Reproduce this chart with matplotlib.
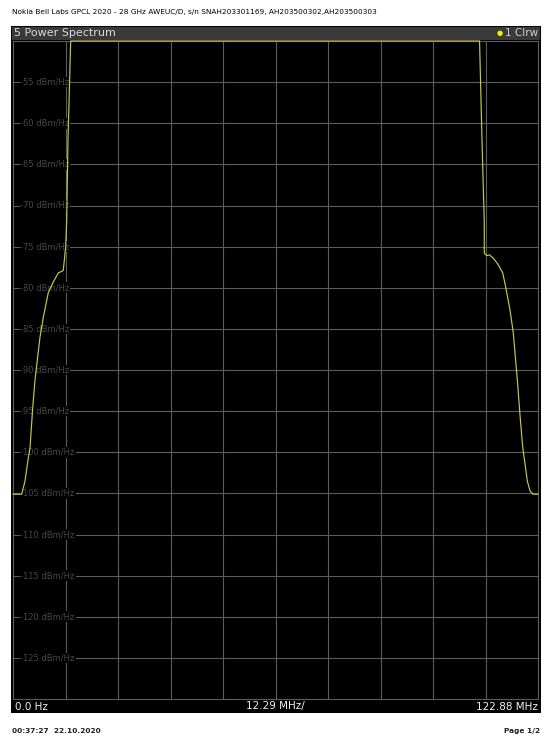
import numpy as np
import matplotlib.pyplot as plt
from matplotlib.patches import Rectangle
from matplotlib.transforms import blended_transform_factory

# trace read-out: frequency (MHz) and power density (dBm/Hz)
freq_mhz = [0.0, 2.04, 2.81, 3.58, 3.98, 4.56, 5.15, 6.32, 7.09, 8.26, 9.43,
            10.60, 11.40, 11.77, 12.33, 12.57, 12.87, 13.5, 13.8,
            109.0, 109.2, 109.77, 110.3, 110.31, 110.87, 111.48, 112.42,
            113.59, 114.62, 115.32, 116.33, 117.1, 118.04, 118.67, 119.3,
            119.84, 120.38, 121.01, 121.71, 122.88]
psd_dbm = [-105.1, -105.1, -103.5, -100.7, -99.5, -95.0, -91.2, -86.0, -83.6,
           -80.6, -79.3, -78.2, -78.0, -77.9, -75.0, -71.7, -62.0, -50.0, -45.0,
           -45.0, -50.0, -62.0, -72.0, -75.8, -76.1, -76.0, -76.4,
           -77.2, -78.2, -79.9, -82.7, -85.5, -91.2, -95.5, -99.4,
           -101.4, -103.5, -104.7, -105.1, -105.1]

ref_level = -50
y_bottom = -130
ytick_vals = list(range(-55, -126, -5))
span_mhz = 122.88
header = "Nokia Bell Labs GPCL 2020 - 28 GHz AWEUC/D, s/n SNAH203301169, AH203500302,AH203500303"
footer_time = "00:37:27  22.10.2020"

W, H = 548, 740
fig = plt.figure(figsize=(W / 100, H / 100), dpi=100)
fig.patch.set_facecolor('white')

def fx(px):
    return px / W

def fy(py):
    return 1 - py / H

# instrument window frame and title bar
fig.patches.append(Rectangle((fx(11), fy(713)), fx(530), 687 / H,
                             transform=fig.transFigure, facecolor='black',
                             edgecolor='none', zorder=-2))
fig.patches.append(Rectangle((fx(12), fy(40)), fx(528), 13 / H,
                             transform=fig.transFigure, facecolor='#3a3a3a',
                             edgecolor='none', zorder=-1))
fig.text(fx(14), fy(33.5), "5 Power Spectrum", color='#d8d8d8', fontsize=8,
         va='center', ha='left')
fig.text(fx(538), fy(33.5), "1 Clrw", color='#d0d0d0', fontsize=7.5,
         va='center', ha='right')
fig.text(fx(503), fy(33.5), "\u25CF", color='#f5f000', fontsize=5,
         va='center', ha='right')

ax = fig.add_axes([fx(13), fy(699), fx(525), 658 / H])
ax.set_facecolor('black')
ax.set_xlim(0, span_mhz)
ax.set_ylim(y_bottom, ref_level)
ax.set_xticks(np.linspace(0, span_mhz, 11))
ax.set_yticks(ytick_vals)
ax.tick_params(length=0, labelleft=False, labelbottom=False)
ax.grid(True, color='#5c5c5c', lw=0.8)
ax.set_axisbelow(True)
for s in ax.spines.values():
    s.set_color('#5c5c5c')
    s.set_linewidth(0.8)
    s.set_zorder(2.5)

# level labels sit inside the grid on black boxes
trans = blended_transform_factory(ax.transAxes, ax.transData)
for v in ytick_vals:
    ax.text(0.014, v, f"{v} dBm/Hz", transform=trans, color='#484848',
            fontsize=6, va='center', ha='left', zorder=1.5,
            bbox=dict(facecolor='black', edgecolor='none', pad=0.6))

# values above the reference level are drawn on the top edge
y_plot = np.clip(np.array(psd_dbm), y_bottom, ref_level)
ax.plot(freq_mhz, y_plot, color='#c8c84a', lw=0.85, zorder=3, clip_on=False)

# frequency bar under the grid
fig.text(fx(15), fy(706.5), "0.0 Hz", color='#f0f0f0', fontsize=7.5, va='center')
fig.text(fx(275), fy(706.5), f"{span_mhz / 10:.2f} MHz/", color='#f0f0f0',
         fontsize=7.5, va='center', ha='center')
fig.text(fx(538), fy(706.5), f"{span_mhz:.2f} MHz", color='#f0f0f0',
         fontsize=7.5, va='center', ha='right')

fig.text(fx(12), fy(12), header, fontsize=5.3, color='black', va='center',
         ha='left')
fig.text(fx(12), fy(731), footer_time, fontsize=5.3, fontweight='bold',
         color='#202020', va='center', ha='left')
fig.text(fx(540), fy(731), "Page 1/2", fontsize=5.3, fontweight='bold',
         color='#202020', va='center', ha='right')

fig.savefig('out.png', dpi=100, facecolor='white')
